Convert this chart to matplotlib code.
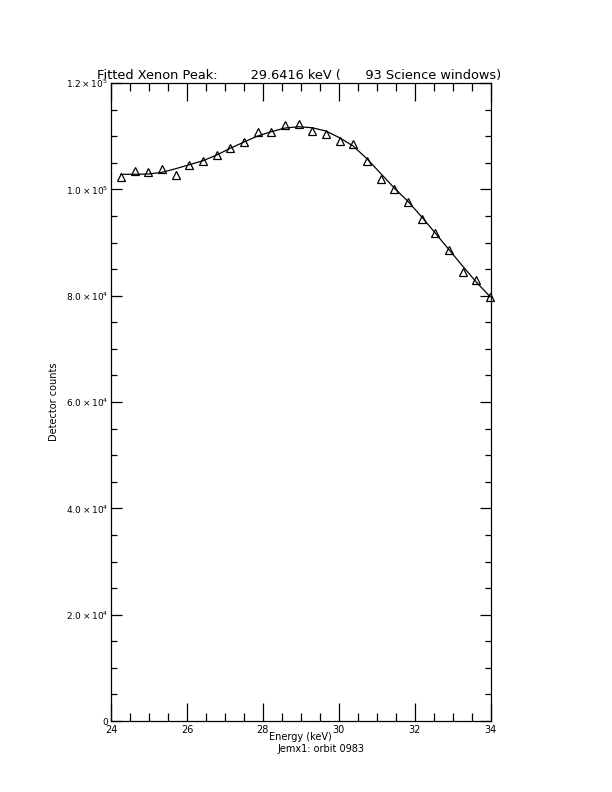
import matplotlib
matplotlib.use('Agg')
import matplotlib.pyplot as plt
from matplotlib.ticker import MultipleLocator, FixedLocator

# measured spectrum (triangles) and the fitted curve
energy = [24.26, 24.62, 24.98, 25.34, 25.70, 26.06, 26.42, 26.78, 27.14, 27.50,
          27.86, 28.22, 28.58, 28.94, 29.30, 29.66, 30.02, 30.38, 30.74, 31.10,
          31.46, 31.82, 32.18, 32.54, 32.90, 33.26, 33.62, 33.98]
counts = [102257, 103442, 103197, 103818, 102690, 104627, 105266, 106508, 107824, 108953,
          110721, 110777, 112150, 112281, 110965, 110457, 109122, 108520, 105379, 101994,
          100094, 97649, 94414, 91724, 88527, 84503, 82885, 79688]
fit = [102821, 102840, 102878, 103190, 103875, 104627, 105379, 106451, 107711, 108896,
       110024, 110833, 111529, 111773, 111585, 110965, 109705, 108144, 105755, 103009,
       100245, 97743, 94847, 91781, 88678, 85575, 82565, 79838]

xticks = [24, 26, 28, 30, 32, 34]
yticks = [0, 20000, 40000, 60000, 80000, 100000, 120000]
ylabels = ['0', r'$2.0\times10^{4}$', r'$4.0\times10^{4}$', r'$6.0\times10^{4}$',
           r'$8.0\times10^{4}$', r'$1.0\times10^{5}$', r'$1.2\times10^{5}$']

fig = plt.figure(figsize=(6.12, 7.92), dpi=100)
ax = fig.add_axes([0.1814, 0.0896, 0.6204, 0.8056])

ax.plot(energy, fit, color='black', lw=0.9, clip_on=False)
ax.plot(energy, counts, linestyle='none', marker='^', markersize=5.5,
        markerfacecolor='none', markeredgecolor='black', markeredgewidth=0.9, clip_on=False)

ax.set_xlim(24, 34)
ax.set_ylim(0, 120000)
ax.xaxis.set_major_locator(FixedLocator(xticks))
ax.xaxis.set_minor_locator(MultipleLocator(0.5))
ax.yaxis.set_major_locator(FixedLocator(yticks))
ax.yaxis.set_minor_locator(MultipleLocator(5000))
ax.set_yticklabels(ylabels)
ax.set_xticklabels([str(t) for t in xticks])

ax.tick_params(axis='x', which='major', direction='in', length=13, width=0.9,
               top=True, labelsize=7, pad=3)
ax.tick_params(axis='x', which='minor', direction='in', length=6, width=0.9, top=True)
ax.tick_params(axis='y', which='major', direction='in', length=8, width=0.9,
               right=True, labelsize=6.5, pad=2)
ax.tick_params(axis='y', which='minor', direction='in', length=4, width=0.9, right=True)
for s in ax.spines.values():
    s.set_linewidth(0.9)

ax.set_xlabel('Energy (keV)', fontsize=7, labelpad=-2)
ax.set_ylabel('Detector counts', fontsize=7, labelpad=5)
fig.text(0.5245, 0.0612, 'Jemx1: orbit 0983', fontsize=7, ha='center', va='top')
fig.text(0.159, 0.897, 'Fitted Xenon Peak:        29.6416 keV (      93 Science windows)',
         fontsize=9.3, ha='left', va='bottom')

fig.savefig('out.png', dpi=100)
